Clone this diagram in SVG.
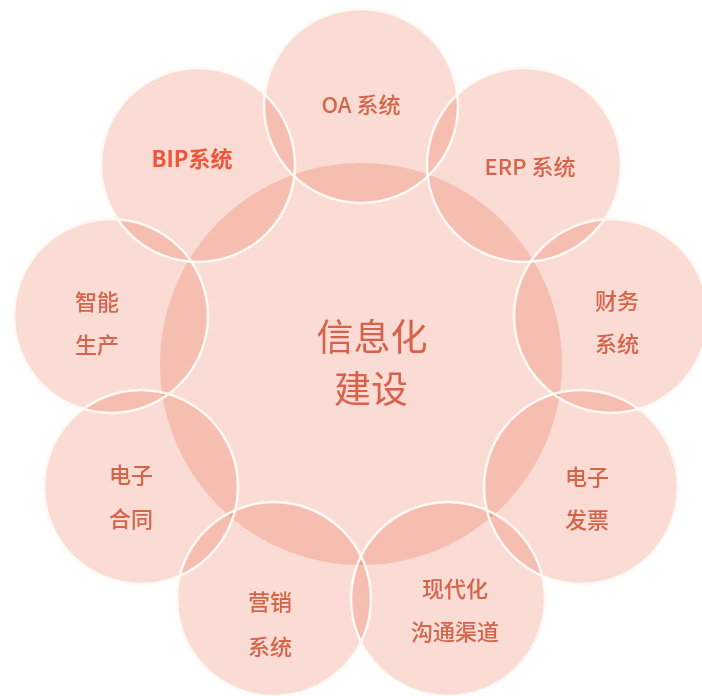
<svg xmlns="http://www.w3.org/2000/svg" width="702" height="696" viewBox="0 0 702 696">
<defs>
<style>
.fill{fill:#FADCD4;mix-blend-mode:multiply}
.outline{fill:none;stroke:#FFF9F3;stroke-width:2.5}
.lbl{font-family:"Noto Sans CJK SC","Noto Sans",sans-serif;font-size:22px;font-weight:500;fill:#D4654B;text-anchor:middle;dominant-baseline:central}
.bip{fill:#F0553A;font-weight:bold}
.center{font-size:37px;font-weight:400;fill:#D9604A}
</style>
</defs>
<rect width="702" height="696" fill="#FFFFFF"/>
<g id="center">
<circle class="fill" cx="361" cy="364" r="201"/>
</g>
<g id="oa"><circle class="fill" cx="361" cy="106" r="97"/></g>
<g id="erp"><circle class="fill" cx="524" cy="165" r="97"/></g>
<g id="finance"><circle class="fill" cx="611" cy="316" r="97"/></g>
<g id="einvoice"><circle class="fill" cx="581" cy="487" r="97"/></g>
<g id="channel"><circle class="fill" cx="448" cy="599" r="97"/></g>
<g id="marketing"><circle class="fill" cx="274" cy="599" r="97"/></g>
<g id="econtract"><circle class="fill" cx="141" cy="487" r="97"/></g>
<g id="smartprod"><circle class="fill" cx="111" cy="316" r="97"/></g>
<g id="bip"><circle class="fill" cx="198" cy="165" r="97"/></g>
<g id="outlines">
<circle class="outline" cx="361" cy="106" r="97"/>
<circle class="outline" cx="524" cy="165" r="97"/>
<circle class="outline" cx="611" cy="316" r="97"/>
<circle class="outline" cx="581" cy="487" r="97"/>
<circle class="outline" cx="448" cy="599" r="97"/>
<circle class="outline" cx="274" cy="599" r="97"/>
<circle class="outline" cx="141" cy="487" r="97"/>
<circle class="outline" cx="111" cy="316" r="97"/>
<circle class="outline" cx="198" cy="165" r="97"/>
</g>
<g id="labels">
<text class="lbl center" x="372" y="335">信息化</text>
<text class="lbl center" x="371" y="387">建设</text>
<text class="lbl" x="361" y="103">OA 系统</text>
<text class="lbl bip" x="192" y="157">BIP系统</text>
<text class="lbl" x="530" y="165">ERP 系统</text>
<text class="lbl" x="617" y="299">财务</text>
<text class="lbl" x="617" y="342">系统</text>
<text class="lbl" x="587" y="475">电子</text>
<text class="lbl" x="587" y="518">发票</text>
<text class="lbl" x="455" y="587">现代化</text>
<text class="lbl" x="455" y="630">沟通渠道</text>
<text class="lbl" x="270" y="600">营销</text>
<text class="lbl" x="270" y="645">系统</text>
<text class="lbl" x="131" y="473">电子</text>
<text class="lbl" x="131" y="517">合同</text>
<text class="lbl" x="97" y="300">智能</text>
<text class="lbl" x="97" y="343">生产</text>
</g>
</svg>
